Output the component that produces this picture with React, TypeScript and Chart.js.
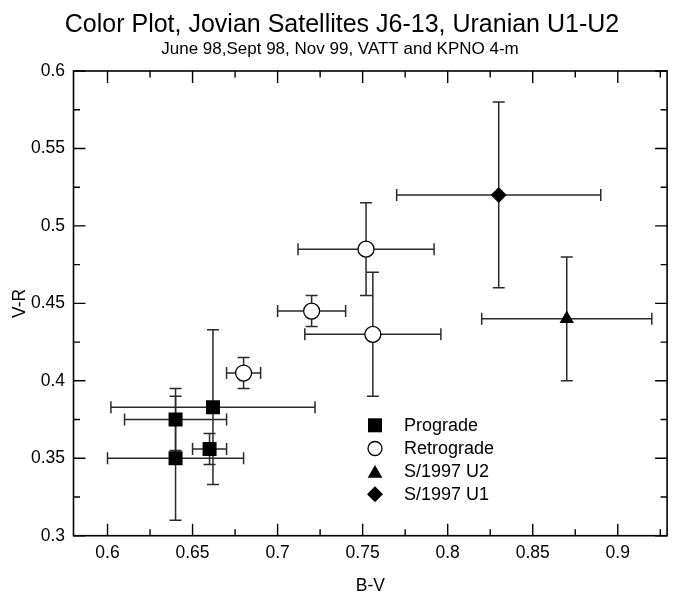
import React, { useEffect, useRef } from 'react';
import { Chart, registerables } from 'chart.js';

Chart.register(...registerables);

// ---- Data ----
const progradeX = [0.64, 0.662, 0.64, 0.66];
const progradeY = [0.375, 0.383, 0.35, 0.356];
const progradeXErr = [0.03, 0.06, 0.04, 0.01];
const progradeYErr = [0.02, 0.05, 0.04, 0.01];

const retroX = [0.752, 0.72, 0.756, 0.68];
const retroY = [0.485, 0.445, 0.43, 0.405];
const retroXErr = [0.04, 0.02, 0.04, 0.01];
const retroYErr = [0.03, 0.01, 0.04, 0.01];

const u2X = [0.87];
const u2Y = [0.44];
const u2XErr = [0.05];
const u2YErr = [0.04];

const u1X = [0.83];
const u1Y = [0.52];
const u1XErr = [0.06];
const u1YErr = [0.06];

const xTickValues = [0.6, 0.65, 0.7, 0.75, 0.8, 0.85, 0.9];
const xTickLabels = ['0.6', '0.65', '0.7', '0.75', '0.8', '0.85', '0.9'];
const yTickValues = [0.3, 0.35, 0.4, 0.45, 0.5, 0.55, 0.6];
const yTickLabels = ['0.3', '0.35', '0.4', '0.45', '0.5', '0.55', '0.6'];

const legendLabels = ['Prograde', 'Retrograde', 'S/1997 U2', 'S/1997 U1'];
const titleText = 'Color Plot, Jovian Satellites J6-13, Uranian U1-U2';
const subtitleText = 'June 98,Sept 98, Nov 99, VATT and KPNO 4-m';
const xTitle = 'B-V';
const yTitle = 'V-R';

const FONT = "'Liberation Sans', Arial, Helvetica, sans-serif";

function pts(xs: number[], ys: number[], xe: number[], ye: number[]) {
  return xs.map((x, i) => ({ x, y: ys[i], xerr: xe[i], yerr: ye[i] }));
}

function drawMarker(ctx: CanvasRenderingContext2D, style: string, x: number, y: number, r: number) {
  ctx.beginPath();
  if (style === 'rect') {
    const s = r * Math.SQRT1_2;
    ctx.rect(x - s, y - s, 2 * s, 2 * s);
    ctx.fillStyle = '#000';
    ctx.fill();
  } else if (style === 'circle') {
    ctx.arc(x, y, r, 0, Math.PI * 2);
    ctx.fillStyle = '#fff';
    ctx.fill();
    ctx.lineWidth = 1.3;
    ctx.strokeStyle = '#000';
    ctx.stroke();
  } else if (style === 'triangle') {
    let rad = 0;
    ctx.moveTo(x + Math.sin(rad) * r, y - Math.cos(rad) * r);
    rad += (2 * Math.PI) / 3;
    ctx.lineTo(x + Math.sin(rad) * r, y - Math.cos(rad) * r);
    rad += (2 * Math.PI) / 3;
    ctx.lineTo(x + Math.sin(rad) * r, y - Math.cos(rad) * r);
    ctx.closePath();
    ctx.fillStyle = '#000';
    ctx.fill();
  } else if (style === 'rectRot') {
    ctx.moveTo(x - r, y);
    ctx.lineTo(x, y - r);
    ctx.lineTo(x + r, y);
    ctx.lineTo(x, y + r);
    ctx.closePath();
    ctx.fillStyle = '#000';
    ctx.fill();
  }
}

const errorBarsPlugin = {
  id: 'errorBars',
  beforeDatasetsDraw(chart: any) {
    const { ctx, scales } = chart;
    const xs = scales.x;
    const ys = scales.y;
    ctx.save();
    ctx.strokeStyle = '#2a2a2a';
    ctx.lineWidth = 1.5;
    const cap = 6;
    chart.data.datasets.forEach((ds: any) => {
      ds.data.forEach((p: any) => {
        const px = xs.getPixelForValue(p.x);
        const py = ys.getPixelForValue(p.y);
        const x0 = xs.getPixelForValue(p.x - p.xerr);
        const x1 = xs.getPixelForValue(p.x + p.xerr);
        const y0 = ys.getPixelForValue(p.y - p.yerr);
        const y1 = ys.getPixelForValue(p.y + p.yerr);
        ctx.beginPath();
        ctx.moveTo(x0, py);
        ctx.lineTo(x1, py);
        ctx.moveTo(x0, py - cap);
        ctx.lineTo(x0, py + cap);
        ctx.moveTo(x1, py - cap);
        ctx.lineTo(x1, py + cap);
        ctx.moveTo(px, y0);
        ctx.lineTo(px, y1);
        ctx.moveTo(px - cap, y0);
        ctx.lineTo(px + cap, y0);
        ctx.moveTo(px - cap, y1);
        ctx.lineTo(px + cap, y1);
        ctx.stroke();
      });
    });
    ctx.restore();
  },
};

const framePlugin = {
  id: 'frame',
  afterDatasetsDraw(chart: any) {
    const { ctx, chartArea, scales } = chart;
    const { left, right, top, bottom } = chartArea;
    const xs = scales.x;
    const ys = scales.y;
    ctx.save();
    ctx.strokeStyle = '#000';
    ctx.lineWidth = 1.6;
    ctx.strokeRect(left, top, right - left, bottom - top);
    ctx.lineWidth = 1.4;
    ctx.beginPath();
    const major = 12;
    const minor = 6.5;
    for (let v = 0.6; v <= 0.93; v += 0.025) {
      const val = Math.round(v * 1000) / 1000;
      if (val > xs.max) break;
      const isMajor = Math.abs(val * 20 - Math.round(val * 20)) < 1e-6;
      const len = isMajor ? major : minor;
      const px = xs.getPixelForValue(val);
      ctx.moveTo(px, bottom);
      ctx.lineTo(px, bottom - len);
      ctx.moveTo(px, top);
      ctx.lineTo(px, top + len);
    }
    for (let v = 0.3; v <= 0.6001; v += 0.025) {
      const val = Math.round(v * 1000) / 1000;
      const isMajor = Math.abs(val * 20 - Math.round(val * 20)) < 1e-6;
      const len = isMajor ? major : minor;
      const py = ys.getPixelForValue(val);
      ctx.moveTo(left, py);
      ctx.lineTo(left + len, py);
      ctx.moveTo(right, py);
      ctx.lineTo(right - len, py);
    }
    ctx.stroke();

    // legend
    const styles = ['rect', 'circle', 'triangle', 'rectRot'];
    const radii = [9.9, 7, 8.5, 8];
    const rows = [425.3, 448.5, 471.5, 494.3];
    ctx.font = `18px ${FONT}`;
    ctx.textBaseline = 'middle';
    ctx.textAlign = 'left';
    styles.forEach((s, i) => {
      drawMarker(ctx, s, 375, s === 'triangle' ? rows[i] + 2 : rows[i], radii[i]);
      ctx.fillStyle = '#000';
      ctx.fillText(legendLabels[i], 404, rows[i] + 1);
    });
    ctx.restore();
  },
  afterDraw(chart: any) {
    const { ctx, chartArea } = chart;
    ctx.save();
    ctx.fillStyle = '#000';
    ctx.textAlign = 'center';
    ctx.textBaseline = 'alphabetic';
    ctx.font = `25px ${FONT}`;
    ctx.fillText(titleText, 342, 32);
    ctx.font = `17px ${FONT}`;
    ctx.fillText(subtitleText, 340, 54);
    ctx.font = `17.5px ${FONT}`;
    ctx.textBaseline = 'middle';
    ctx.fillText(xTitle, (chartArea.left + chartArea.right) / 2, 586);
    ctx.translate(20, (chartArea.top + chartArea.bottom) / 2);
    ctx.rotate(-Math.PI / 2);
    ctx.fillText(yTitle, 0, 0);
    ctx.restore();
  },
};

export default function App() {
  const ref = useRef<HTMLCanvasElement>(null);

  useEffect(() => {
    const canvas = ref.current;
    if (!canvas) return;
    const chart = new Chart(canvas, {
      type: 'scatter',
      data: {
        datasets: [
          {
            label: legendLabels[0],
            data: pts(progradeX, progradeY, progradeXErr, progradeYErr),
            pointStyle: 'rect',
            pointRadius: 9.9,
            backgroundColor: '#000',
            borderColor: '#000',
            borderWidth: 0,
          },
          {
            label: legendLabels[1],
            data: pts(retroX, retroY, retroXErr, retroYErr),
            pointStyle: 'circle',
            pointRadius: 8,
            backgroundColor: '#fff',
            borderColor: '#000',
            borderWidth: 1.3,
          },
          {
            label: legendLabels[2],
            data: pts(u2X, u2Y, u2XErr, u2YErr),
            pointStyle: 'triangle',
            pointRadius: 8.3,
            backgroundColor: '#000',
            borderColor: '#000',
            borderWidth: 0,
          },
          {
            label: legendLabels[3],
            data: pts(u1X, u1Y, u1XErr, u1YErr),
            pointStyle: 'rectRot',
            pointRadius: 8,
            backgroundColor: '#000',
            borderColor: '#000',
            borderWidth: 0,
          },
        ],
      } as any,
      options: {
        animation: false,
        responsive: false,
        devicePixelRatio: 1,
        events: [],
        layout: { padding: { top: 71, left: 0, right: 1, bottom: 0 } },
        plugins: {
          legend: { display: false },
          tooltip: { enabled: false },
          title: { display: false },
        },
        scales: {
          x: {
            type: 'linear',
            min: 0.58,
            max: 0.929,
            grid: { display: false, drawTicks: false },
            border: { display: false },
            ticks: {
              padding: 7,
              color: '#000',
              font: { family: FONT, size: 17.5 },
              callback: (_v: any, i: number) => xTickLabels[i],
            },
            afterBuildTicks: (s: any) => {
              s.ticks = xTickValues.map((v) => ({ value: v }));
            },
            afterFit: (s: any) => {
              s.height = 60.3;
            },
          },
          y: {
            type: 'linear',
            min: 0.3,
            max: 0.6,
            grid: { display: false, drawTicks: false },
            border: { display: false },
            ticks: {
              padding: 8.5,
              color: '#000',
              font: { family: FONT, size: 17.5 },
              callback: (_v: any, i: number) => yTickLabels[i],
            },
            afterBuildTicks: (s: any) => {
              s.ticks = yTickValues.map((v) => ({ value: v }));
            },
            afterFit: (s: any) => {
              s.width = 73.5;
            },
          },
        },
      } as any,
      plugins: [errorBarsPlugin, framePlugin],
    });
    return () => chart.destroy();
  }, []);

  return (
    <div style={{ position: 'fixed', left: 0, top: 0, width: 677, height: 596, background: '#fff' }}>
      <canvas ref={ref} width={677} height={596} style={{ display: 'block', width: 677, height: 596 }} />
    </div>
  );
}
